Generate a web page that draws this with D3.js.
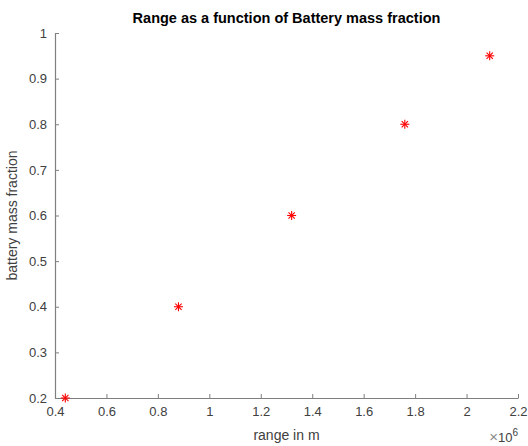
<!DOCTYPE html>
<html>
<head>
<meta charset="utf-8">
<script src="https://cdn.jsdelivr.net/npm/d3@7"></script>
<style>
  body { margin: 0; background: #fff; }
  text { font-family: "Liberation Sans", Arial, sans-serif; }
</style>
</head>
<body>
<svg width="528" height="446"></svg>
<script>
const rangeM = [0.44e6, 0.88e6, 1.32e6, 1.76e6, 2.09e6];
const massFraction = [0.2, 0.4, 0.6, 0.8, 0.95];
const xTicks = [0.4, 0.6, 0.8, 1, 1.2, 1.4, 1.6, 1.8, 2, 2.2];
const yTicks = [0.2, 0.3, 0.4, 0.5, 0.6, 0.7, 0.8, 0.9, 1];

const svg = d3.select('svg');
const margin = { top: 33, right: 10, bottom: 48, left: 55 };
const innerWidth = 528 - margin.left - margin.right;
const innerHeight = 446 - margin.top - margin.bottom;

const xScale = d3.scaleLinear().domain([0.4e6, 2.2e6]).range([0, innerWidth]);
const yScale = d3.scaleLinear().domain([0.2, 1]).range([innerHeight, 0]);

const g = svg.append('g').attr('transform', `translate(${margin.left},${margin.top})`);
const axisColor = '#7f7f7f';
const labelColor = '#404040';

const xAxisG = g.append('g')
  .attr('transform', `translate(0,${innerHeight})`)
  .call(d3.axisBottom(xScale).tickValues(xTicks.map(v => v * 1e6))
    .tickFormat(d => d3.format('~g')(+(d / 1e6).toFixed(1)))
    .tickSize(-4).tickSizeOuter(0).tickPadding(9));

const yAxisG = g.append('g')
  .call(d3.axisLeft(yScale).tickValues(yTicks).tickFormat(d3.format('~g'))
    .tickSize(-4).tickSizeOuter(0).tickPadding(8));

[xAxisG, yAxisG].forEach(a => {
  a.selectAll('.domain').attr('stroke', axisColor).attr('stroke-width', 1.2);
  a.selectAll('.tick line').attr('stroke', axisColor);
  a.selectAll('.tick text').attr('fill', labelColor).style('font-size', '13px');
});

// asterisk markers
const r = 4.5;
const star = g.selectAll('.pt').data(rangeM.map((x, i) => [x, massFraction[i]]))
  .enter().append('g')
  .attr('transform', d => `translate(${xScale(d[0])},${yScale(d[1])})`)
  .attr('stroke', 'red').attr('stroke-width', 1.1);
star.append('line').attr('x1', -r).attr('x2', r);
star.append('line').attr('y1', -r).attr('y2', r);
star.append('line').attr('x1', -r * 0.7).attr('y1', -r * 0.7).attr('x2', r * 0.7).attr('y2', r * 0.7);
star.append('line').attr('x1', -r * 0.7).attr('y1', r * 0.7).attr('x2', r * 0.7).attr('y2', -r * 0.7);

g.append('text')
  .attr('x', innerWidth / 2).attr('y', -10)
  .attr('text-anchor', 'middle')
  .style('font-size', '14.5px').style('font-weight', 'bold')
  .attr('fill', '#000')
  .text('Range as a function of Battery mass fraction');

g.append('text')
  .attr('x', innerWidth / 2).attr('y', innerHeight + 42)
  .attr('text-anchor', 'middle')
  .style('font-size', '14px')
  .attr('fill', labelColor)
  .text('range in m');

g.append('text')
  .attr('transform', 'rotate(-90)')
  .attr('x', -innerHeight / 2).attr('y', -38)
  .attr('text-anchor', 'middle')
  .style('font-size', '14px')
  .attr('fill', labelColor)
  .text('battery mass fraction');

const exp = g.append('text')
  .attr('x', innerWidth).attr('y', innerHeight + 44)
  .attr('text-anchor', 'end')
  .attr('fill', labelColor)
  .style('font-size', '13px');
exp.append('tspan').attr('fill', '#8a8a8a').style('font-size', '15px').text('\u00d7');
exp.append('tspan').text('10');
exp.append('tspan').attr('dy', -6).style('font-size', '10px').text('6');
</script>
</body>
</html>
